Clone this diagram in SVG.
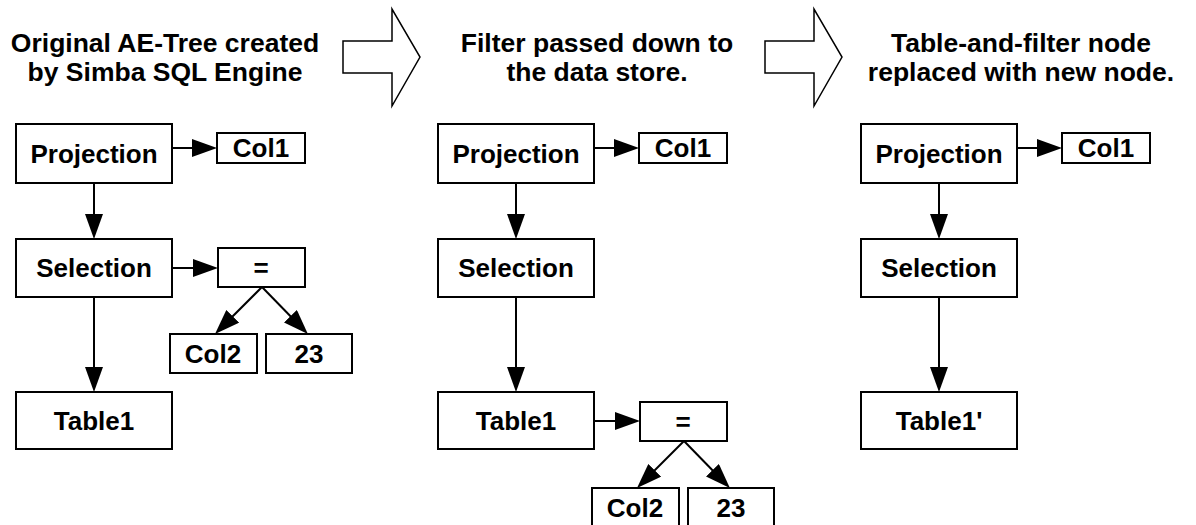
<svg xmlns="http://www.w3.org/2000/svg" width="1196" height="525" viewBox="0 0 1196 525">
  <style>
    .box { fill: #ffffff; stroke: #000000; stroke-width: 2; }
    .lbl { font-family: "Liberation Sans", Arial, sans-serif; font-weight: bold; font-size: 26px; fill: #000000; text-anchor: middle; }
    .title { font-family: "Liberation Sans", Arial, sans-serif; font-weight: bold; font-size: 26.5px; fill: #000000; text-anchor: middle; }
    .edge { fill: none; stroke: #000000; stroke-width: 2; marker-end: url(#head); }
    .step { fill: #ffffff; stroke: #000000; stroke-width: 1.5; stroke-linejoin: miter; }
  </style>
  <defs>
    <!-- filled triangular arrowhead; tip sits 12px beyond the line end -->
    <marker id="head" viewBox="0 0 25 18" refX="13" refY="9" markerWidth="25" markerHeight="18" markerUnits="userSpaceOnUse" orient="auto">
      <path d="M0,0 L25,9 L0,18 z" fill="#000000"/>
    </marker>
  </defs>
  <rect width="1196" height="525" fill="#ffffff"/>

  <!-- stage titles -->
  <g id="title-1">
    <text class="title" x="165" y="52">Original AE-Tree created</text>
    <text class="title" x="165" y="81">by Simba SQL Engine</text>
  </g>
  <g id="title-2">
    <text class="title" x="597" y="52">Filter passed down to</text>
    <text class="title" x="597" y="81">the data store.</text>
  </g>
  <g id="title-3">
    <text class="title" x="1021" y="52">Table-and-filter node</text>
    <text class="title" x="1021" y="81">replaced with new node.</text>
  </g>

  <!-- block arrows between stages -->
  <g id="step-arrow-1">
    <polygon class="step" points="343,41 392,41 392,9 420,57 392,106 392,73 343,73"/>
  </g>
  <g id="step-arrow-2">
    <polygon class="step" points="765,41 814,41 814,9 842,57 814,106 814,73 765,73"/>
  </g>

  <!-- stage 1 -->
  <g id="s1-projection"><rect class="box" x="16" y="124" width="156" height="59"/><text class="lbl" x="94" y="163">Projection</text></g>
  <g id="s1-col1"><rect class="box" x="217" y="133" width="88" height="30"/><text class="lbl" x="261" y="157">Col1</text></g>
  <g id="s1-selection"><rect class="box" x="16" y="239" width="156" height="58"/><text class="lbl" x="94" y="277">Selection</text></g>
  <g id="s1-eq"><rect class="box" x="218" y="248" width="87" height="39"/><text class="lbl" x="261" y="277">=</text></g>
  <g id="s1-col2"><rect class="box" x="170" y="334" width="87" height="39"/><text class="lbl" x="213" y="363">Col2</text></g>
  <g id="s1-23"><rect class="box" x="266" y="334" width="86" height="39"/><text class="lbl" x="309" y="363">23</text></g>
  <g id="s1-table1"><rect class="box" x="16" y="392" width="156" height="57"/><text class="lbl" x="94" y="430">Table1</text></g>

  <!-- stage 2 -->
  <g id="s2-projection"><rect class="box" x="438" y="124" width="156" height="59"/><text class="lbl" x="516" y="163">Projection</text></g>
  <g id="s2-col1"><rect class="box" x="639" y="133" width="88" height="30"/><text class="lbl" x="683" y="157">Col1</text></g>
  <g id="s2-selection"><rect class="box" x="438" y="239" width="156" height="58"/><text class="lbl" x="516" y="277">Selection</text></g>
  <g id="s2-table1"><rect class="box" x="438" y="392" width="156" height="57"/><text class="lbl" x="516" y="430">Table1</text></g>
  <g id="s2-eq"><rect class="box" x="640" y="402" width="87" height="39"/><text class="lbl" x="683" y="431">=</text></g>
  <g id="s2-col2"><rect class="box" x="592" y="488" width="87" height="39"/><text class="lbl" x="635" y="517">Col2</text></g>
  <g id="s2-23"><rect class="box" x="688" y="488" width="86" height="39"/><text class="lbl" x="731" y="517">23</text></g>

  <!-- stage 3 -->
  <g id="s3-projection"><rect class="box" x="861" y="124" width="156" height="59"/><text class="lbl" x="939" y="163">Projection</text></g>
  <g id="s3-col1"><rect class="box" x="1062" y="133" width="88" height="30"/><text class="lbl" x="1106" y="157">Col1</text></g>
  <g id="s3-selection"><rect class="box" x="861" y="239" width="156" height="58"/><text class="lbl" x="939" y="277">Selection</text></g>
  <g id="s3-table1"><rect class="box" x="861" y="392" width="156" height="57"/><text class="lbl" x="939" y="430">Table1'</text></g>

  <!-- connectors -->
  <g id="connectors">
    <!-- stage 1 -->
    <path class="edge" d="M172,148 H205"/>
    <path class="edge" d="M94,183 V227"/>
    <path class="edge" d="M172,268 H206"/>
    <path class="edge" d="M94,297 V380"/>
    <path class="edge" d="M262,287 L223.5,325.5"/>
    <path class="edge" d="M262,287 L299.5,325.5"/>
    <!-- stage 2 -->
    <path class="edge" d="M594,148 H627"/>
    <path class="edge" d="M516,183 V227"/>
    <path class="edge" d="M516,297 V380"/>
    <path class="edge" d="M594,421 H628"/>
    <path class="edge" d="M684,441 L645.5,479.5"/>
    <path class="edge" d="M684,441 L721.5,479.5"/>
    <!-- stage 3 -->
    <path class="edge" d="M1017,148 H1050"/>
    <path class="edge" d="M939,183 V227"/>
    <path class="edge" d="M939,297 V380"/>
  </g>
</svg>
